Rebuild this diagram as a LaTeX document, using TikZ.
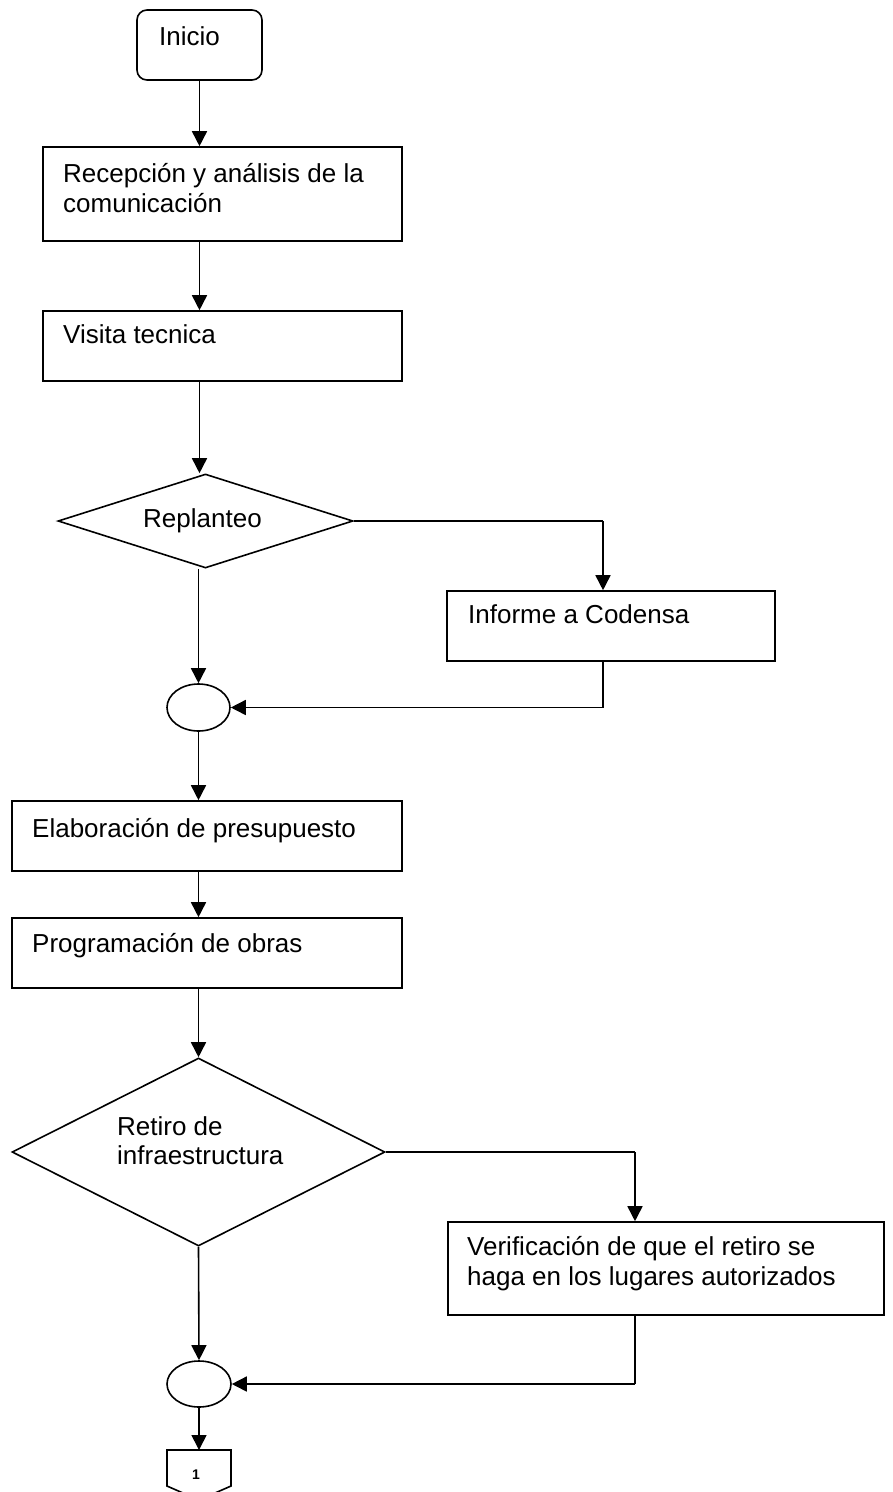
\documentclass[tikz,border=0pt]{standalone}
\usepackage{fontspec}
\setmainfont{Liberation Sans}
\usetikzlibrary{arrows.meta,shapes.geometric}
\begin{document}
\begin{tikzpicture}[x=1pt,y=-1pt,
  ln/.style={line width=1.6pt},
  box/.style={draw, ln, rectangle, inner sep=0pt},
  decis/.style={draw, ln, diamond, inner sep=0pt},
  joint/.style={draw, ln, ellipse, inner sep=0pt},
  txt/.style={anchor=base west, inner sep=0pt, font=\fontsize{26}{30}\selectfont, align=left},
  arr/.style={ln, -{Triangle[length=15pt,width=15pt]}}]
\useasboundingbox (0,0) rectangle (893,1492);
\fill[white] (0,0) rectangle (893,1492);

% nodes
\node[box, rounded corners=10pt, minimum width=125pt, minimum height=70pt] (ini) at (199.5,45) {};
\node[txt] (tini) at (159,45) {Inicio};

\node[box, minimum width=359pt, minimum height=94pt] (b1) at (222.5,194) {};
\node[txt] (tb1) at (63,212) {Recepción y análisis de la\\comunicación};

\node[box, minimum width=359pt, minimum height=70pt] (b2) at (222.5,346) {};
\node[txt] (tb2) at (63,343) {Visita tecnica};

\node[decis, minimum width=295pt, minimum height=94pt] (d1) at (205.5,521) {};
\node[txt] (td1) at (143,527) {Replanteo};

\node[box, minimum width=328pt, minimum height=70pt] (inf) at (611,626) {};
\node[txt] (tinf) at (468,623) {Informe a Codensa};

\node[joint, minimum width=63pt, minimum height=47pt] (e1) at (198.5,707.5) {};

\node[box, minimum width=390pt, minimum height=70pt] (b3) at (207,836) {};
\node[txt] (tb3) at (32,837) {Elaboración de presupuesto};

\node[box, minimum width=390pt, minimum height=70pt] (b4) at (207,953) {};
\node[txt] (tb4) at (32,952) {Programación de obras};

\node[decis, minimum width=373pt, minimum height=188pt] (d2) at (198.5,1152) {};
\node[txt, font=\fontsize{26}{29}\selectfont] (td2) at (117,1164) {Retiro de\\infraestructura};

\node[box, minimum width=436pt, minimum height=93pt] (ver) at (666,1268.5) {};
\node[txt] (tver) at (467,1285) {Verificación de que el retiro se\\haga en los lugares autorizados};

\node[joint, minimum width=64pt, minimum height=46pt] (e2) at (199,1384) {};

% off-page connector
\coordinate (off) at (199,1450);
\draw[ln, line join=miter] (167,1450) -- (231,1450) -- (231,1486) -- (199,1500) -- (167,1486) -- cycle;
\node[inner sep=0pt, anchor=base, font=\fontsize{14}{14}\selectfont\bfseries] (toff) at (196,1479) {1};

% connectors
\coordinate (c1) at (603,521);
\coordinate (c2) at (603,707.5);
\coordinate (c3) at (635,1152);
\coordinate (c4) at (635,1384);

\draw[arr] (ini.south) -- (ini.south |- b1.north);
\draw[arr] (ini.south |- b1.south) -- (ini.south |- b2.north);
\draw[arr] (ini.south |- b2.south) -- (ini.south |- d1.north);
\draw[ln] (d1.east) -- (c1);
\draw[arr] (c1) -- (c1 |- inf.north);
\draw[ln] (c1 |- inf.south) -- (c2);
\draw[arr] (c2) -- (e1.east);
\draw[arr] (e1.north |- d1.south) -- (e1.north);
\draw[arr] (e1.south) -- (e1.south |- b3.north);
\draw[arr] (e1.south |- b3.south) -- (e1.south |- b4.north);
\draw[arr] (e1.south |- b4.south) -- (d2.north);
\draw[ln] (d2.east) -- (c3);
\draw[arr] (c3) -- (c3 |- ver.north);
\draw[ln] (c3 |- ver.south) -- (c4);
\draw[arr] (c4) -- (e2.east);
\draw[arr] (d2.south) -- (e2.north);
\draw[arr] (e2.south) -- (off);
\end{tikzpicture}
\end{document}
